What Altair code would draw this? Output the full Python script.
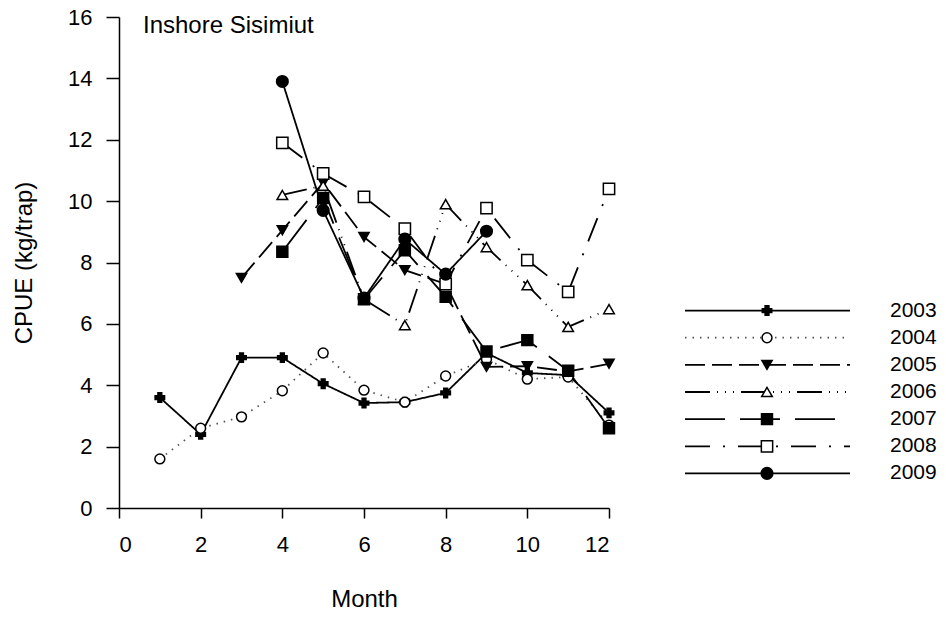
import altair as alt
import pandas as pd

years = ["2003", "2004", "2005", "2006", "2007", "2008", "2009"]

months_2003 = [1, 2, 3, 4, 5, 6, 7, 8, 9, 10, 11, 12]
cpue_2003 = [3.6, 2.4, 4.9, 4.9, 4.05, 3.42, 3.45, 3.75, 5.05, 4.4, 4.33, 3.1]

months_2004 = [1, 2, 3, 4, 5, 6, 7, 8, 9, 10, 11, 12]
cpue_2004 = [1.6, 2.6, 2.97, 3.82, 5.05, 3.84, 3.45, 4.3, 4.85, 4.2, 4.27, 2.7]

months_2005 = [3, 4, 5, 6, 7, 8, 9, 10, 11, 12]
cpue_2005 = [7.5, 9.05, 10.6, 8.83, 7.75, 7.3, 4.6, 4.62, 4.45, 4.7]

months_2006 = [4, 5, 6, 7, 8, 9, 10, 11, 12]
cpue_2006 = [10.2, 10.5, 6.8, 5.96, 9.9, 8.5, 7.26, 5.9, 6.48]

months_2007 = [4, 5, 6, 7, 8, 9, 10, 11, 12]
cpue_2007 = [8.35, 10.1, 6.8, 8.4, 6.88, 5.1, 5.47, 4.47, 2.6]

months_2008 = [4, 5, 6, 7, 8, 9, 10, 11, 12]
cpue_2008 = [11.9, 10.9, 10.14, 9.1, 7.3, 9.77, 8.08, 7.04, 10.4]

months_2009 = [4, 5, 6, 7, 8, 9]
cpue_2009 = [13.9, 9.7, 6.84, 8.76, 7.62, 9.02]

x_ticks = [0, 2, 4, 6, 8, 10, 12]
y_ticks = [0, 2, 4, 6, 8, 10, 12, 14, 16]

series = [
    ("2003", months_2003, cpue_2003),
    ("2004", months_2004, cpue_2004),
    ("2005", months_2005, cpue_2005),
    ("2006", months_2006, cpue_2006),
    ("2007", months_2007, cpue_2007),
    ("2008", months_2008, cpue_2008),
    ("2009", months_2009, cpue_2009),
]
rows = []
for yr, ms, vs in series:
    for m, v in zip(ms, vs):
        rows.append({"year": yr, "month": m, "cpue": v})
df = pd.DataFrame(rows)
leg = pd.DataFrame({"year": years})

FONT = "Liberation Sans"

dash_range = [[1, 0], [1.5, 6], [20, 7], [25, 7, 1, 7, 1, 7, 1, 7], [40, 15], [25, 13, 2, 13], [1, 0]]
shape_range = ["cross", "circle", "triangle-down", "triangle-up", "square", "square", "circle"]
fill_range = ["black", "white", "black", "white", "black", "white", "black"]
size_range = [90, 135, 185, 170, 145, 145, 290]
stroke_range = ["black", "#555555", "black", "black", "black", "black", "black"]

dash = alt.StrokeDash("year:N", scale=alt.Scale(domain=years, range=dash_range), legend=None)
shape = alt.Shape("year:N", scale=alt.Scale(domain=years, range=shape_range), legend=None)
fill = alt.Fill("year:N", scale=alt.Scale(domain=years, range=fill_range), legend=None)
size = alt.Size("year:N", scale=alt.Scale(domain=years, range=size_range), legend=None)
stroke = alt.Stroke("year:N", scale=alt.Scale(domain=years, range=stroke_range), legend=None)

xenc = alt.X("month:Q", scale=alt.Scale(domain=[0, 12], nice=False),
             axis=alt.Axis(values=x_ticks, title="Month", tickSize=10,
                           labelPadding=16, titlePadding=32, format="d"))
yenc = alt.Y("cpue:Q", scale=alt.Scale(domain=[0, 16], nice=False),
             axis=alt.Axis(values=y_ticks, title="CPUE (kg/trap)", tickSize=13,
                           labelPadding=14, titlePadding=31, format="d"))

base = alt.Chart(df)
lines = base.mark_line(strokeWidth=1.8).encode(
    x=xenc, y=yenc, strokeDash=dash, stroke=stroke, detail="year:N"
)
points = base.mark_point(filled=True, opacity=1, stroke="black", strokeWidth=1.5).encode(
    x=xenc, y=yenc, shape=shape, fill=fill, size=size
)
title_txt = alt.Chart(pd.DataFrame({"t": ["Inshore Sisimiut"]})).mark_text(
    align="left", baseline="middle", fontSize=24, font=FONT, color="black"
).encode(x=alt.value(24), y=alt.value(9), text="t:N")

main = alt.layer(lines, points, title_txt)

yleg = alt.Y("year:N", scale=alt.Scale(type="point", domain=years, range=[280, 470]), axis=None)
leg_base = alt.Chart(leg)
leg_rules = leg_base.mark_rule(strokeWidth=1.8).encode(
    x=alt.value(566), x2=alt.value(731), y=yleg, strokeDash=dash, stroke=stroke
)
leg_pts = leg_base.mark_point(filled=True, opacity=1, stroke="black", strokeWidth=1.5).encode(
    x=alt.value(648), y=yleg, shape=shape, fill=fill, size=size
)
leg_txt = leg_base.mark_text(align="left", baseline="middle", fontSize=21, font=FONT, color="black").encode(
    x=alt.value(771), y=yleg, text="year:N"
)
legend = alt.layer(leg_rules, leg_pts, leg_txt)

chart = alt.layer(main, legend).resolve_scale(y="independent").properties(
    width=490,
    height=491,
    autosize="none",
    padding={"left": 119, "top": 17, "right": 337, "bottom": 113},
).configure(font=FONT).configure_view(stroke=None).configure_axis(
    grid=False,
    domainColor="black",
    domainWidth=1.5,
    tickColor="black",
    tickWidth=1.5,
    labelColor="black",
    titleColor="black",
    labelFont=FONT,
    titleFont=FONT,
    labelFontSize=22,
    titleFontSize=24,
    titleFontWeight="normal",
)

chart.save("out.html", embed_options={"renderer": "svg", "actions": False})
